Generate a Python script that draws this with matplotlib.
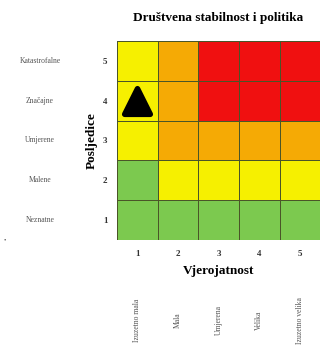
import numpy as np
import matplotlib.pyplot as plt
from matplotlib.colors import ListedColormap

plt.rcParams['font.family'] = ['Liberation Serif', 'DejaVu Serif']

posljedice = ['Neznatne', 'Malene', 'Umjerene', 'Značajne', 'Katastrofalne']
vjerojatnost = ['Izuzetno mala', 'Mala', 'Umjerena', 'Velika', 'Izuzetno velika']
# razina rizika: 0 zelena, 1 zuta, 2 narancasta, 3 crvena (redovi od 1 do 5)
rizik = np.array([
    [0, 0, 0, 0, 0],
    [0, 1, 1, 1, 1],
    [1, 2, 2, 2, 2],
    [1, 2, 3, 3, 3],
    [1, 2, 3, 3, 3],
])
marker_x, marker_y = 1, 4

cmap = ListedColormap(['#7cc94f', '#f6f000', '#f5aa05', '#f01010'])

fig = plt.figure(figsize=(3.29, 3.56), dpi=100)
ax = fig.add_axes([0.356, 0.326, 0.617, 0.559])

n = len(vjerojatnost)
ax.pcolormesh(np.arange(0.5, n + 1), np.arange(0.5, n + 1), rizik, cmap=cmap,
              vmin=-0.5, vmax=3.5, edgecolor='#4a5528', linewidth=0.7)
ax.scatter([marker_x], [marker_y], marker='^', s=340, color='black',
           linewidths=4, edgecolors='black', zorder=3)

ax.set_xlim(0.5, n + 0.5)
ax.set_ylim(0.5, n + 0.5)
ax.set_xticks(range(1, n + 1))
ax.set_yticks(range(1, n + 1))
ax.tick_params(length=0, labelsize=6.5, pad=7, labelcolor='#333333')
for lab in ax.get_xticklabels() + ax.get_yticklabels():
    lab.set_fontweight('bold')
for s in ax.spines.values():
    s.set_visible(False)

for i, name in enumerate(posljedice):
    ax.text(-1.4, i + 1, name, ha='center', va='center', fontsize=5.5, color='#555555')
for i, name in enumerate(vjerojatnost):
    ax.text(i + 1, -1.52, name, ha='center', va='center', rotation=90,
            fontsize=5.5, color='#555555')

ax.set_title('Društvena stabilnost i politika', fontsize=9.5, fontweight='bold', pad=14)
ax.set_xlabel('Vjerojatnost', fontsize=9.5, fontweight='bold', labelpad=5)
ax.set_ylabel('Posljedice', fontsize=9.5, fontweight='bold', labelpad=4)

fig.text(0.015, 0.325, '•', fontsize=5, color='#555555', ha='center', va='center')

fig.savefig('out.png', dpi=100)
